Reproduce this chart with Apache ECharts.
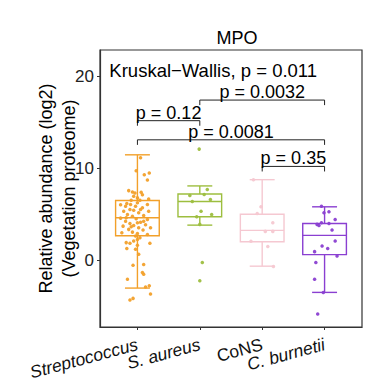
<!DOCTYPE html>
<html>
<head>
<meta charset="utf-8">
<script src="https://cdn.jsdelivr.net/npm/echarts@6/dist/echarts.min.js"></script>
<style>html,body{margin:0;padding:0;background:#fff;}#chart{width:373px;height:385px;}</style>
</head>
<body>
<div id="chart"></div>
<script>
// ---- data ----
const title = 'MPO';
const categories = ['Streptococcus', 'S. aureus', 'CoNS', 'C. burnetii'];
const italicCats = [true, true, false, true];
const colors = ['#F2A02A', '#9DBE3F', '#F5C8D1', '#8A3FD1'];

const boxLow    = [-2.97, 3.87, -0.59, -3.44];
const boxQ1     = [2.72, 4.78, 2.07, 0.67];
const boxMedian = [4.67, 6.43, 3.30, 2.76];
const boxQ3     = [6.54, 7.26, 5.06, 4.05];
const boxHigh   = [11.51, 8.13, 8.81, 5.86];

// [jitter offset, value]
const strepPoints = [[0.05,11.2],[-0.02,9.78],[0.11,9.35],[0.19,9.54],[0.16,8.78],[-0.14,7.62],[-0.08,7.48],[-0.04,7.37],[0.06,7.44],[0.08,7.16],[-0.06,7.01],[0.00,6.83],[0.04,6.57],[-0.10,6.57],[0.18,6.72],[0.00,6.29],[-0.27,6.08],[-0.19,5.92],[0.16,6.11],[0.08,5.75],[-0.12,5.57],[-0.06,5.49],[-0.22,5.38],[0.18,5.38],[0.02,5.21],[-0.16,5.03],[0.10,4.92],[-0.08,4.84],[-0.27,4.63],[-0.02,4.56],[0.16,4.49],[-0.19,4.30],[0.05,4.19],[-0.12,4.05],[-0.06,3.84],[0.13,3.91],[-0.23,3.76],[0.02,3.59],[-0.14,3.41],[0.09,3.33],[-0.08,3.11],[0.00,2.97],[0.16,2.86],[-0.03,2.68],[0.04,2.51],[0.00,2.32],[-0.06,2.14],[-0.18,1.97],[-0.12,1.89],[0.20,1.89],[0.00,1.68],[-0.17,1.32],[-0.03,1.24],[0.02,0.70],[-0.07,-0.49],[0.10,-0.41],[0.08,-1.28],[0.10,-1.46],[-0.16,-2.0],[0.19,-2.72],[0.13,-2.86],[0.21,-3.62],[-0.07,-4.09],[-0.12,-4.27],[-0.11,6.11],[-0.03,5.92],[0.05,5.57],[-0.18,4.67],[0.10,4.30],[-0.10,3.70],[0.00,4.13],[-0.25,3.05],[0.21,3.59],[-0.17,6.22]];
const aureusPoints = [[-0.01,12.13],[0.12,7.73],[0.07,7.19],[-0.16,7.08],[0.17,6.65],[-0.12,6.43],[0.02,5.38],[0.19,5.03],[-0.05,4.78],[0.00,3.95],[0.04,-0.19],[0.00,-2.18]];
const consPoints = [[-0.14,8.81],[-0.02,5.86],[-0.08,5.14],[0.17,4.13],[0.05,3.19],[0.17,3.19],[-0.18,2.11],[0.09,1.54],[0.18,-0.63]];
const burnetiiPoints = [[-0.05,5.92],[-0.01,5.21],[0.07,5.32],[0.17,4.49],[-0.12,3.95],[-0.09,3.84],[-0.05,4.13],[0.07,4.05],[0.12,3.33],[0.17,2.14],[-0.04,1.60],[0.05,1.32],[-0.16,0.99],[0.20,0.52],[-0.14,-0.19],[-0.16,-2.0],[-0.02,-3.44],[-0.11,-5.78]];

const bracketFrom   = [2, 1, 1, 3];
const bracketTo     = [4, 2, 4, 4];
const bracketY      = [17.46, 15.22, 13.14, 10.25];
const bracketLabels = ['p = 0.0032', 'p = 0.12', 'p = 0.0081', 'p = 0.35'];

const kwLabel = 'Kruskal\u2212Wallis, p = 0.011';
const kwX = 0.55, kwY = 20.7;

const xTicks = [1, 2, 3, 4];
const yTicks = [0, 10, 20];
const yMin = -7.2, yMax = 22.9;
const yTitle = 'Relative abundance (log2)\n(Vegetation proteome)';

// ---- chart ----
const FONT = 'Liberation Sans, Arial, sans-serif';
const chart = echarts.init(document.getElementById('chart'), null, {renderer: 'svg'});
const groups = [strepPoints, aureusPoints, consPoints, burnetiiPoints];

const boxData = categories.map((c, i) => [i + 1, boxLow[i], boxQ1[i], boxMedian[i], boxQ3[i], boxHigh[i]]);
const bracketData = bracketFrom.map((f, i) => [f, bracketTo[i], bracketY[i]]);

const scatterSeries = groups.map((pts, gi) => ({
  type: 'scatter',
  symbolSize: 3.5,
  itemStyle: {color: colors[gi], opacity: 0.95},
  z: 3,
  silent: true,
  data: pts.map(p => [gi + 1 + p[0], p[1]])
}));

// plot frame: x 0.4..4.6 mapped over 262px; category label grid spans 0.5..4.5
const plotLeft = 100, plotRight = 11, plotW = 262;
const unitPx = plotW / 4.2;

chart.setOption({
  animation: false,
  title: {
    text: title, left: 232, top: 24, textAlign: 'center',
    textStyle: {fontFamily: FONT, fontSize: 18, fontWeight: 'normal', color: '#000'}
  },
  grid: [
    {left: plotLeft, top: 50, right: plotRight, bottom: 58, show: true, borderColor: '#333', borderWidth: 1.2, backgroundColor: 'transparent'},
    {left: plotLeft + 0.1 * unitPx, top: 50, right: plotRight + 0.1 * unitPx, bottom: 58, show: false}
  ],
  xAxis: [
    {
      type: 'value', min: 0.4, max: 4.6, gridIndex: 0,
      splitLine: {show: false},
      axisLine: {show: true, onZero: false, lineStyle: {color: '#333', width: 1.2}},
      axisTick: {show: true, customValues: xTicks, length: 3, lineStyle: {color: '#333'}},
      axisLabel: {show: false}
    },
    {
      type: 'category', gridIndex: 1, data: categories, boundaryGap: true,
      axisLine: {show: false}, axisTick: {show: false}, splitLine: {show: false},
      axisLabel: {
        interval: 0, rotate: 15, margin: 17, hideOverlap: false,
        fontFamily: FONT, fontSize: 17, color: '#111',
        formatter: (v, idx) => italicCats[idx] ? '{i|' + v + '}' : '{n|' + v + '}',
        rich: {
          i: {fontStyle: 'italic', fontFamily: FONT, fontSize: 17.5, color: '#111'},
          n: {fontFamily: FONT, fontSize: 17.5, color: '#111'}
        }
      }
    }
  ],
  yAxis: [
    {
      type: 'value', min: yMin, max: yMax, gridIndex: 0,
      splitLine: {show: false},
      axisLine: {show: true, onZero: false, lineStyle: {color: '#333', width: 1.2}},
      axisTick: {show: true, customValues: yTicks, length: 3, lineStyle: {color: '#333'}},
      axisLabel: {customValues: yTicks, margin: 6, fontFamily: FONT, fontSize: 17, color: '#222'},
      name: yTitle, nameLocation: 'middle', nameRotate: 90, nameGap: 20, nameMoveOverlap: false,
      nameTextStyle: {fontFamily: FONT, fontSize: 18, color: '#000', lineHeight: 23, align: 'center'}
    },
    {type: 'value', gridIndex: 1, show: false}
  ],
  series: [
    {
      type: 'custom', z: 2, silent: true,
      data: boxData,
      renderItem: (params, api) => {
        const i = params.dataIndex;
        const x = api.value(0);
        const lo = api.value(1), q1 = api.value(2), md = api.value(3), q3 = api.value(4), hi = api.value(5);
        const col = colors[i];
        const bw = 0.35, cw = 0.2;
        const p = (a, b) => api.coord([a, b]);
        const ls = {stroke: col, lineWidth: 1.4, fill: null};
        const tl = p(x - bw, q3), br = p(x + bw, q1);
        return {
          type: 'group',
          children: [
            {type: 'line', shape: {x1: p(x, hi)[0], y1: p(x, hi)[1], x2: p(x, q3)[0], y2: p(x, q3)[1]}, style: ls},
            {type: 'line', shape: {x1: p(x, q1)[0], y1: p(x, q1)[1], x2: p(x, lo)[0], y2: p(x, lo)[1]}, style: ls},
            {type: 'line', shape: {x1: p(x - cw, hi)[0], y1: p(x - cw, hi)[1], x2: p(x + cw, hi)[0], y2: p(x + cw, hi)[1]}, style: ls},
            {type: 'line', shape: {x1: p(x - cw, lo)[0], y1: p(x - cw, lo)[1], x2: p(x + cw, lo)[0], y2: p(x + cw, lo)[1]}, style: ls},
            {type: 'rect', shape: {x: tl[0], y: tl[1], width: br[0] - tl[0], height: br[1] - tl[1]}, style: {stroke: col, lineWidth: 1.4, fill: 'rgba(255,255,255,0)'}},
            {type: 'line', shape: {x1: p(x - bw, md)[0], y1: p(x - bw, md)[1], x2: p(x + bw, md)[0], y2: p(x + bw, md)[1]}, style: ls}
          ]
        };
      }
    },
    ...scatterSeries,
    {
      type: 'custom', z: 4, silent: true,
      data: bracketData,
      renderItem: (params, api) => {
        const i = params.dataIndex;
        const x1 = api.value(0), x2 = api.value(1), y = api.value(2);
        const tick = 0.55;
        const a = api.coord([x1, y - tick]), b = api.coord([x1, y]), c = api.coord([x2, y]), d = api.coord([x2, y - tick]);
        const m = api.coord([(x1 + x2) / 2, y]);
        return {
          type: 'group',
          children: [
            {type: 'polyline', shape: {points: [a, b, c, d]}, style: {stroke: '#222', lineWidth: 1, fill: null}},
            {type: 'text', style: {text: bracketLabels[i], x: m[0], y: m[1] + 1, align: 'center', verticalAlign: 'bottom', fontFamily: FONT, fontSize: 18, fill: '#000'}}
          ]
        };
      }
    },
    {
      type: 'custom', z: 4, silent: true,
      data: [[kwX, kwY]],
      renderItem: (params, api) => {
        const pt = api.coord([api.value(0), api.value(1)]);
        return {type: 'text', style: {text: kwLabel, x: pt[0], y: pt[1], align: 'left', verticalAlign: 'middle', fontFamily: FONT, fontSize: 18.5, fill: '#000'}};
      }
    }
  ]
});
</script>
</body>
</html>
